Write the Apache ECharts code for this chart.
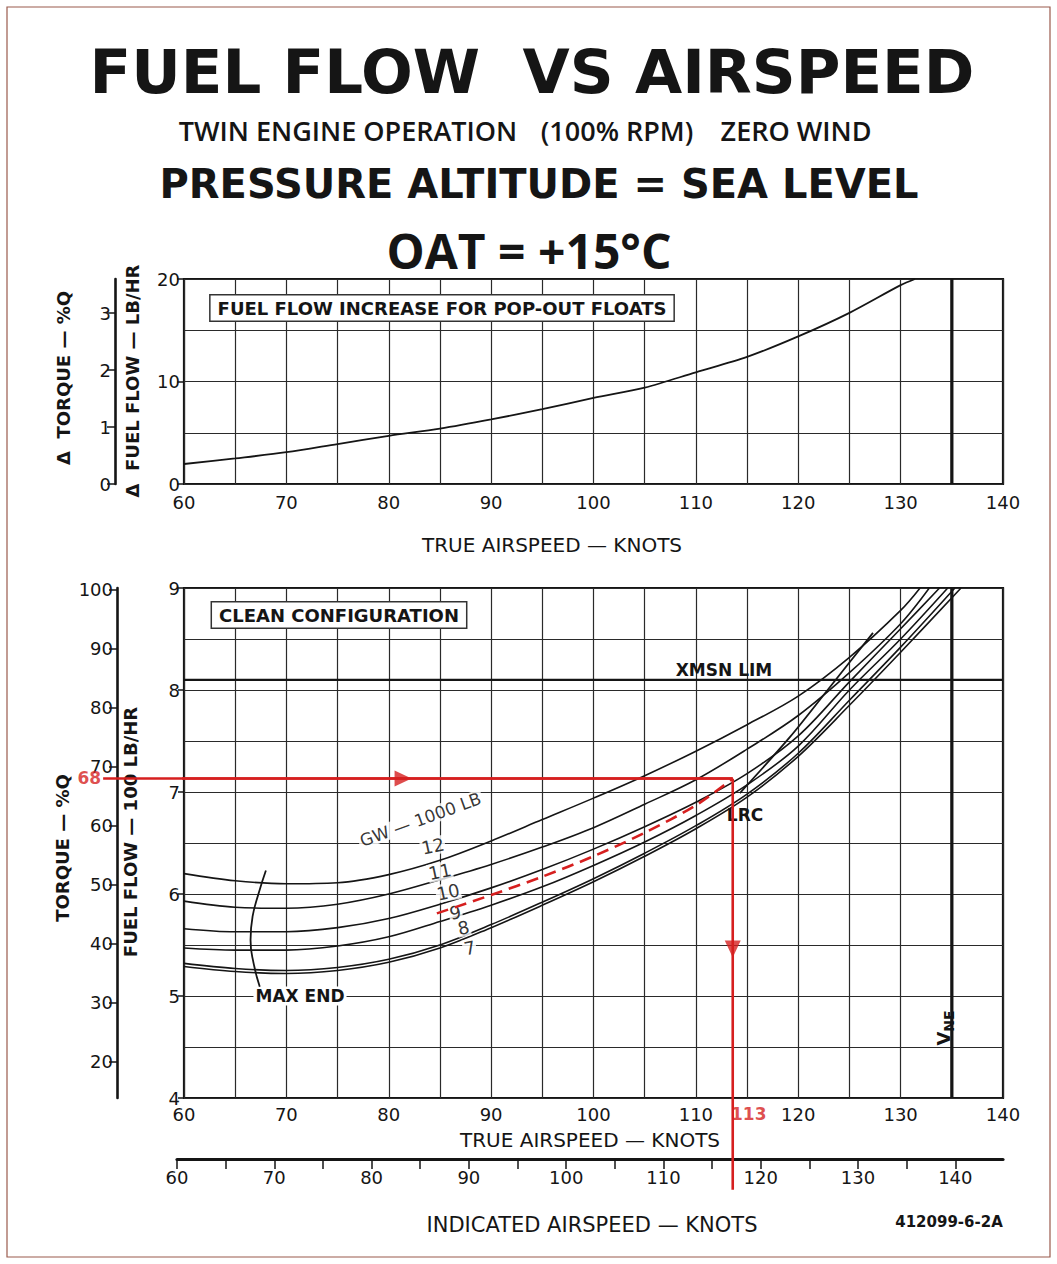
<!DOCTYPE html>
<html><head><meta charset="utf-8">
<script src="https://cdn.jsdelivr.net/npm/echarts@6/dist/echarts.min.js"></script>
<style>html,body{margin:0;padding:0;background:#fff}#c{width:1057px;height:1264px}</style>
</head><body><div id="c"></div>
<script>
// ---------- DATA ----------
// tick labels
const tasTickLabels = [60,70,80,90,100,110,120,130,140];
const iasTickLabels = [60,70,80,90,100,110,120,130,140];
const floatsFuelTicks = [0,10,20];
const floatsTorqueTicks = [0,1,2,3];
const fuelTicks = [4,5,6,7,8,9];
const torqueTicks = [20,30,40,50,60,70,80,90,100];

// top chart: fuel flow increase for pop-out floats (lb/hr) vs TAS
const floatsSpeed = [60,65,70,75,80,85,90,95,100,105,110,115,120,125,130,131.4];
const floatsFuel  = [1.95,2.5,3.1,3.9,4.7,5.4,6.3,7.3,8.4,9.4,10.9,12.4,14.4,16.7,19.4,20];

// bottom chart: fuel flow (100 lb/hr) vs TAS for gross weights (1000 lb)
const gwSpeed = [60,65,70,75,80,85,90,95,100,105,110,115,120,125,130];
const gw12 = [6.20,6.13,6.10,6.11,6.19,6.33,6.52,6.73,6.94,7.16,7.40,7.66,7.94,8.32,8.78];
const gw11 = [5.93,5.87,5.86,5.90,6.00,6.14,6.29,6.46,6.65,6.88,7.12,7.42,7.75,8.17,8.65];
const gw10 = [5.66,5.63,5.63,5.67,5.76,5.90,6.06,6.24,6.44,6.66,6.90,7.18,7.55,8.08,8.60];
const gw9  = [5.47,5.45,5.45,5.49,5.58,5.73,5.89,6.07,6.28,6.51,6.77,7.07,7.45,8.00,8.50];
const gw8  = [5.32,5.27,5.25,5.28,5.36,5.50,5.70,5.92,6.15,6.40,6.67,6.98,7.38,7.90,8.42];
const gw7  = [5.29,5.24,5.22,5.25,5.33,5.47,5.67,5.89,6.12,6.37,6.64,6.95,7.35,7.85,8.37];
const gwNames = ['12','11','10','9','8','7'];
const gwTopSpeed = [131.9,132.8,133.8,134.6,135.3,135.9]; // TAS where each curve reaches 900 lb/hr
const gwTopFuel = 9;

const maxEndSpeed = [68.0,67.3,66.7,66.5,66.8,67.4];
const maxEndFuel  = [6.23,6.01,5.78,5.55,5.32,5.09];
const lrcSpeed = [114.3,119.2,123.1,127.3];
const lrcFuel  = [6.99,7.54,8.03,8.56];
const xmsnLimFuel = 8.10;
const vneSpeed = 135;

// worked example (red)
const exampleTorque = 68;
const exampleTAS = 113.6;
const exampleTASLabel = '113';
const exampleCornerFuel = 7.13;
const exampleLineStartTAS = 52.1;
const exampleLineEndFuel = 3.1;
const exampleArrowTAS = 81.4;
const exampleArrowFuel = 5.46;
const dashedSpeed = [84.7,90,95,100,105,110,113.6];
const dashedFuel  = [5.81,5.99,6.17,6.37,6.60,6.87,7.13];

// ---------- CHART ----------
const F = '"DejaVu Sans", sans-serif';
const H = '"Open Sans", sans-serif';
const INK = '#151515';
const RED = '#d61f1f';
const pairs = (xs, ys) => xs.map((x, i) => [x, ys[i]]);
const gwFuel = [gw12, gw11, gw10, gw9, gw8, gw7];

// curve label placement (layout)
const curveLabelPos = [[84.3,6.47],[85.0,6.22],[85.8,6.02],[86.5,5.82],[87.3,5.67],[87.9,5.47]];

const chart = echarts.init(document.getElementById('c'), null, {renderer: 'svg'});

const axisLabelBase = {color: INK, fontFamily: F, fontSize: 18};
const split = {show: true, lineStyle: {color: '#2a2a2a', width: 1.2}};

const series = [];
series.push({type: 'line', xAxisIndex: 0, yAxisIndex: 0, data: pairs(floatsSpeed, floatsFuel),
  smooth: 0.3, symbol: 'none', lineStyle: {color: INK, width: 1.8}, z: 5});
series.push({type: 'line', xAxisIndex: 0, yAxisIndex: 0, data: [[vneSpeed, 0], [vneSpeed, 20]],
  symbol: 'none', lineStyle: {color: INK, width: 3.2}, z: 4});

gwFuel.forEach((fuel, i) => {
  series.push({type: 'line', name: 'GW ' + gwNames[i], xAxisIndex: 1, yAxisIndex: 3,
    data: pairs(gwSpeed, fuel).concat([[gwTopSpeed[i], gwTopFuel]]),
    smooth: 0.35, symbol: 'none', lineStyle: {color: INK, width: 1.6}, z: 5});
});
series.push({type: 'line', xAxisIndex: 1, yAxisIndex: 3, data: pairs(maxEndSpeed, maxEndFuel),
  smooth: 0.5, symbol: 'none', lineStyle: {color: INK, width: 1.8}, z: 5});
series.push({type: 'line', xAxisIndex: 1, yAxisIndex: 3, data: pairs(lrcSpeed, lrcFuel),
  smooth: 0.3, symbol: 'none', lineStyle: {color: INK, width: 1.8}, z: 5});
series.push({type: 'line', xAxisIndex: 1, yAxisIndex: 3, data: [[60, xmsnLimFuel], [140, xmsnLimFuel]],
  symbol: 'none', lineStyle: {color: INK, width: 2.2}, z: 4});
series.push({type: 'line', xAxisIndex: 1, yAxisIndex: 3, data: [[vneSpeed, 4], [vneSpeed, 9]],
  symbol: 'none', lineStyle: {color: INK, width: 3.2}, z: 4});

// red example
series.push({type: 'line', xAxisIndex: 1, yAxisIndex: 3, data: pairs(dashedSpeed, dashedFuel),
  smooth: 0.3, symbol: 'none', lineStyle: {color: RED, width: 2.6, type: [12, 7]}, z: 60});
series.push({type: 'line', xAxisIndex: 1, yAxisIndex: 5, clip: false,
  data: [[exampleLineStartTAS, exampleTorque], [exampleTAS, exampleTorque]],
  symbol: 'none', lineStyle: {color: RED, width: 2.6}, z: 61});
series.push({type: 'line', xAxisIndex: 1, yAxisIndex: 3, clip: false,
  data: [[exampleTAS, exampleCornerFuel], [exampleTAS, exampleLineEndFuel]],
  symbol: 'none', lineStyle: {color: RED, width: 2.6}, z: 61});
series.push({type: 'scatter', xAxisIndex: 1, yAxisIndex: 5, clip: false,
  data: [[exampleArrowTAS, exampleTorque]], symbol: 'triangle', symbolSize: [16, 17], symbolRotate: -90,
  itemStyle: {color: RED}, z: 62});
series.push({type: 'scatter', xAxisIndex: 1, yAxisIndex: 3, clip: false,
  data: [[exampleTAS, exampleArrowFuel]], symbol: 'triangle', symbolSize: [16, 17], symbolRotate: 180,
  itemStyle: {color: RED}, z: 62});
series.push({type: 'scatter', xAxisIndex: 1, yAxisIndex: 5, clip: false,
  data: [[exampleLineStartTAS, exampleTorque]], symbolSize: 0,
  label: {show: true, position: 'left', distance: 2, formatter: String(exampleTorque),
    color: RED, fontFamily: F, fontWeight: 'bold', fontSize: 17}, z: 63});
series.push({type: 'scatter', xAxisIndex: 1, yAxisIndex: 3, clip: false,
  data: [[exampleTAS, 4]], symbolSize: 0,
  label: {show: true, position: 'bottom', distance: 7, offset: [16, 0], formatter: exampleTASLabel,
    color: RED, fontFamily: F, fontWeight: 'bold', fontSize: 17}, z: 63});

// curve labels
series.push({type: 'scatter', xAxisIndex: 1, yAxisIndex: 3,
  data: curveLabelPos.map((p, i) => ({value: p, name: gwNames[i]})), symbolSize: 0,
  label: {show: true, position: 'inside', formatter: '{b}', rotate: 12, color: '#000',
    fontFamily: F, fontSize: 18, backgroundColor: '#fff', padding: [0, 1]}, z: 7});
series.push({type: 'scatter', xAxisIndex: 1, yAxisIndex: 3,
  data: [{value: [83.1, 6.73], name: 'GW \u2014 1000 LB'}], symbolSize: 0,
  label: {show: true, position: 'inside', formatter: '{b}', rotate: 20, color: '#000',
    fontFamily: F, fontSize: 17, backgroundColor: '#fff', padding: [0, 2]}, z: 7});

function txt(x, y, text, font, extra, z) {
  return {type: 'text', x: x, y: y, z: z || 3,
    style: Object.assign({text: text, font: font, fill: INK, align: 'center', verticalAlign: 'middle',
      textAlign: 'center', textVerticalAlign: 'middle'}, extra || {})};
}
function rtxt(x, y, text, font) {
  const t = txt(x, y, text, font);
  t.rotation = Math.PI / 2;
  return t;
}

const graphic = [
  {type: 'rect', z: 1, shape: {x: 7, y: 7, width: 1043, height: 1250},
    style: {fill: 'none', stroke: '#9a5a4c', lineWidth: 1.2}},
  txt(532, 71, 'FUEL FLOW\u00a0\u00a0VS AIRSPEED', 'bold 61px ' + F),
  txt(348, 130, 'TWIN ENGINE OPERATION', '600 27px ' + H),
  txt(617, 130, '(100% RPM)', '600 27px ' + H),
  txt(796, 130, 'ZERO WIND', '600 27px ' + H),
  txt(539, 184, 'PRESSURE ALTITUDE = SEA LEVEL', 'bold 40px ' + F),
  txt(529, 250, 'OAT = +15\u00b0C', 'bold 48px ' + H),
  txt(442, 308, 'FUEL FLOW INCREASE FOR POP-OUT FLOATS', 'bold 18px ' + F,
    {backgroundColor: '#fff', borderColor: '#333', borderWidth: 1.5, padding: [4, 7, 3, 7]}),
  txt(339, 615, 'CLEAN CONFIGURATION', 'bold 18px ' + F,
    {backgroundColor: '#fff', borderColor: '#333', borderWidth: 1.5, padding: [4, 7, 3, 7]}),
  txt(552, 545, 'TRUE AIRSPEED \u2014 KNOTS', '20px ' + F),
  txt(590, 1140, 'TRUE AIRSPEED \u2014 KNOTS', '20px ' + F),
  txt(592, 1225, 'INDICATED AIRSPEED \u2014 KNOTS', '21px ' + F),
  txt(949, 1222, '412099-6-2A', 'bold 15px ' + F),
  rtxt(63, 378, '\u0394\u00a0\u00a0TORQUE \u2014 %Q', 'bold 18px ' + F),
  rtxt(132, 381, '\u0394\u00a0\u00a0FUEL FLOW \u2014 LB/HR', 'bold 18px ' + F),
  rtxt(62, 848, 'TORQUE \u2014 %Q', 'bold 18px ' + F),
  rtxt(130, 832, 'FUEL FLOW \u2014 100 LB/HR', 'bold 18px ' + F),
  txt(724, 670, 'XMSN LIM', 'bold 17px ' + F),
  txt(745, 815, 'LRC', 'bold 17px ' + F),
  txt(300, 996, 'MAX END', 'bold 17px ' + F, {backgroundColor: '#fff', padding: [1, 2]}),
  {type: 'text', x: 945, y: 1028, rotation: Math.PI / 2, z: 3,
    style: {text: '{v|V}{s|NE}', align: 'center', verticalAlign: 'middle', fill: INK,
      rich: {v: {font: 'bold 18px ' + F, fill: INK, lineHeight: 22, verticalAlign: 'top'},
             s: {font: 'bold 14px ' + F, fill: INK, lineHeight: 22, verticalAlign: 'bottom', padding: [6, 0, 0, 0]}}}}
];

const option = {
  animation: false,
  backgroundColor: '#fff',
  grid: [
    {left: 184, top: 279, width: 819, height: 205, show: true, borderColor: INK, borderWidth: 2.2, backgroundColor: 'transparent'},
    {left: 184, top: 588, width: 819, height: 510, show: true, borderColor: INK, borderWidth: 2.2, backgroundColor: 'transparent'},
    {left: 177, top: 1140, width: 826, height: 19, show: false}
  ],
  xAxis: [
    {type: 'value', gridIndex: 0, min: 60, max: 140, interval: 5,
      axisLine: {show: false}, axisTick: {show: false}, splitLine: split,
      axisLabel: Object.assign({margin: 9, formatter: v => tasTickLabels.includes(v) ? String(v) : ''}, axisLabelBase)},
    {type: 'value', gridIndex: 1, min: 60, max: 140, interval: 5,
      axisLine: {show: false}, axisTick: {show: false}, splitLine: split,
      axisLabel: Object.assign({margin: 7, formatter: v => tasTickLabels.includes(v) ? String(v) : ''}, axisLabelBase)},
    {type: 'value', gridIndex: 2, min: 60, max: 144.9, interval: 5, position: 'bottom',
      axisLine: {show: true, lineStyle: {color: INK, width: 3.2}},
      axisTick: {show: true, length: 10, lineStyle: {color: INK, width: 1.5}},
      splitLine: {show: false},
      axisLabel: Object.assign({margin: 9, showMaxLabel: false, formatter: v => iasTickLabels.includes(v) ? String(v) : ''}, axisLabelBase)}
  ],
  yAxis: [
    {type: 'value', gridIndex: 0, position: 'left', min: 0, max: 20, interval: 5, axisLine: {show: false}, axisTick: {show: false},
      axisLabel: {show: false}, splitLine: split},
    {type: 'value', gridIndex: 0, position: 'left', offset: 0, min: 0, max: 20, interval: 10, axisLine: {show: false},
      axisTick: {show: true, length: 7, lineStyle: {color: INK, width: 1.5}, customValues: floatsFuelTicks},
      axisLabel: Object.assign({margin: 4, customValues: floatsFuelTicks}, axisLabelBase), splitLine: {show: false}},
    {type: 'value', gridIndex: 0, min: 0, max: 3.6, position: 'left', offset: 69,
      axisLine: {show: true, lineStyle: {color: INK, width: 2.6}},
      axisTick: {show: true, length: 8, lineStyle: {color: INK, width: 1.5}, customValues: floatsTorqueTicks},
      axisLabel: Object.assign({margin: 4, customValues: floatsTorqueTicks}, axisLabelBase), splitLine: {show: false}},
    {type: 'value', gridIndex: 1, position: 'left', min: 4, max: 9, interval: 0.5, axisLine: {show: false}, axisTick: {show: false},
      axisLabel: {show: false}, splitLine: split},
    {type: 'value', gridIndex: 1, position: 'left', offset: 0, min: 4, max: 9, interval: 1, axisLine: {show: false},
      axisTick: {show: true, length: 6, lineStyle: {color: INK, width: 1.5}, customValues: fuelTicks},
      axisLabel: Object.assign({margin: 4, customValues: fuelTicks}, axisLabelBase), splitLine: {show: false}},
    {type: 'value', gridIndex: 1, min: 13.8, max: 100.3, position: 'left', offset: 67,
      axisLine: {show: true, lineStyle: {color: INK, width: 2.6}},
      axisTick: {show: true, length: 8, lineStyle: {color: INK, width: 1.5}, customValues: torqueTicks},
      axisLabel: Object.assign({margin: 4, customValues: torqueTicks}, axisLabelBase), splitLine: {show: false}},
    {type: 'value', gridIndex: 2, show: false, min: 0, max: 1}
  ],
  series: series,
  graphic: graphic
};
chart.setOption(option);

// make sure the red guide line reaching back to the torque scale is drawn (positions from the library's scales)
const pStart = chart.convertToPixel({xAxisIndex: 1, yAxisIndex: 5}, [exampleLineStartTAS, exampleTorque]);
const pCorner = chart.convertToPixel({xAxisIndex: 1, yAxisIndex: 5}, [exampleTAS, exampleTorque]);
if (pStart && pCorner) {
  graphic.push({type: 'line', z: 70, shape: {x1: pStart[0], y1: pStart[1], x2: pCorner[0], y2: pCorner[1]},
    style: {stroke: RED, lineWidth: 2.6}});
  chart.setOption({graphic: graphic});
}
</script></body></html>
